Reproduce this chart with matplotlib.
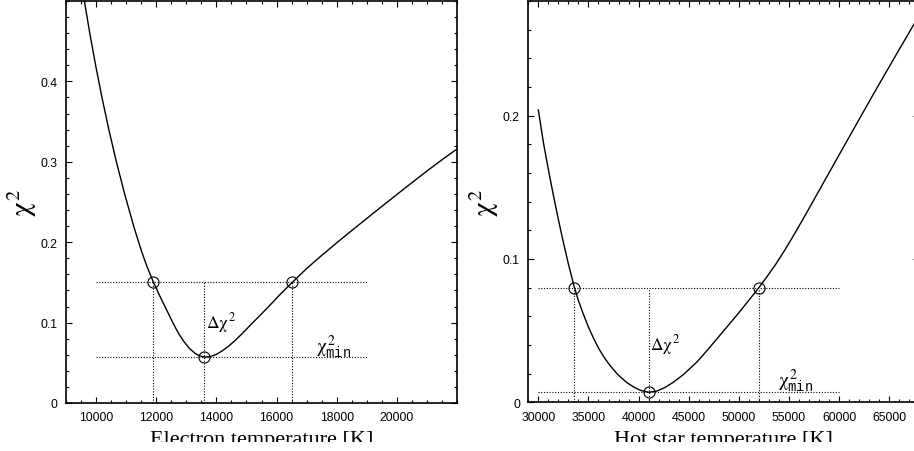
import matplotlib
matplotlib.use("Agg")
import matplotlib.pyplot as plt
from matplotlib.ticker import MultipleLocator, FixedLocator
from matplotlib.transforms import Bbox, TransformedBbox

plt.rcParams['mathtext.fontset'] = 'custom'
plt.rcParams['mathtext.rm'] = 'STIXGeneral'
plt.rcParams['mathtext.it'] = 'STIXGeneral'
plt.rcParams['mathtext.bf'] = 'STIXGeneral:bold'
plt.rcParams['mathtext.sf'] = 'Liberation Sans'
plt.rcParams['mathtext.tt'] = 'Liberation Mono'

# ---- Left panel: electron temperature ----
te_x = [9611, 9790, 9985, 10195, 10425, 10675, 10950, 11250, 11500, 11690,
        11910, 12120, 12330, 12578, 12750, 12911, 13100, 13300, 13450, 13633,
        13800, 14000, 14200, 14400, 14600, 14850, 15133, 15400, 15689, 16100,
        16522, 17000, 17500, 18000, 18500, 19000, 19500, 20000, 20500, 21000,
        21500, 22000]
te_chi2 = [0.500, 0.460, 0.420, 0.380, 0.340, 0.300, 0.260, 0.220, 0.190, 0.170,
           0.150, 0.133, 0.117, 0.098, 0.086, 0.077, 0.068, 0.0615, 0.0585, 0.057,
           0.0578, 0.0605, 0.065, 0.0705, 0.077, 0.086, 0.097, 0.107, 0.118, 0.1343,
           0.150, 0.1672, 0.1835, 0.1992, 0.2145, 0.2295, 0.2445, 0.2593, 0.2740, 0.2885,
           0.3025, 0.316]
te_best = 13600
te_lo, te_hi = 11900, 16500
te_min, te_level = 0.057, 0.15
te_line_x = [10000, 19000]
te_xticks = [10000, 12000, 14000, 16000, 18000, 20000]
te_yticks = [0, 0.1, 0.2, 0.3, 0.4]
te_yticklabels = ['0', '0.1', '0.2', '0.3', '0.4']

# ---- Right panel: hot star temperature ----
ts_x = [30000, 30500, 31000, 31500, 32000, 32500, 33000, 33600, 34000, 34490,
        35000, 35500, 35990, 36550, 37160, 37900, 38820, 39500, 40200, 41000,
        41800, 42600, 43470, 44500, 45800, 46500, 47300, 48200, 49130, 50000,
        51000, 52000, 52800, 53700, 54700, 55700, 56800, 57800, 58900, 60000,
        61000, 62100, 63300, 64600, 65800, 67000, 68000]
ts_chi2 = [0.204, 0.1815, 0.1625, 0.1445, 0.1275, 0.1115, 0.0965, 0.080, 0.071, 0.0615,
           0.0525, 0.0448, 0.038, 0.0315, 0.0256, 0.0195, 0.0138, 0.0107, 0.0083, 0.0070,
           0.0078, 0.0102, 0.014, 0.0195, 0.028, 0.0335, 0.040, 0.0475, 0.0552, 0.0625,
           0.0712, 0.080, 0.0876, 0.0965, 0.1075, 0.1193, 0.1327, 0.1452, 0.1589, 0.1726,
           0.1850, 0.1987, 0.2135, 0.2293, 0.2438, 0.2582, 0.270]
ts_best = 41000
ts_lo, ts_hi = 33600, 52000
ts_min, ts_level = 0.007, 0.080
ts_line_x = [30000, 60000]
ts_xticks = [30000, 35000, 40000, 45000, 50000, 55000, 60000, 65000]
ts_yticks = [0, 0.1, 0.2]
ts_yticklabels = ['0', '0.1', '0.2']

W, H = 914, 452
fig = plt.figure(figsize=(W / 100, H / 100), dpi=100)

serif = ['Liberation Serif', 'DejaVu Serif']
sans = ['Liberation Sans', 'DejaVu Sans']

# the reference picture is cut just below the baseline of the axis titles
clip = TransformedBbox(Bbox([[0, 9 / H], [1, 1]]), fig.transFigure)


def make_panel(rect, x, y, best, lo, hi, ymin, level, linex, xlim, ylim,
               xticks, xminor, yticks, yticklabels, yminor, xlabel,
               dlabel_xy, minlabel_xy):
    ax = fig.add_axes(rect)
    ax.plot(x, y, color='black', lw=1.0, solid_joinstyle='round')
    dot = dict(color='black', lw=0.8, ls=(0, (1, 1.5)))
    ax.plot(linex, [level, level], **dot)
    ax.plot(linex, [ymin, ymin], **dot)
    for xv in (lo, best, hi):
        ax.plot([xv, xv], [0, level], **dot)
    ax.plot([lo, hi, best], [level, level, ymin], 'o', mfc='none', mec='black',
            ms=8, mew=0.8)
    ax.set_xlim(*xlim)
    ax.set_ylim(*ylim)
    ax.xaxis.set_major_locator(FixedLocator(xticks))
    ax.xaxis.set_minor_locator(MultipleLocator(xminor))
    ax.yaxis.set_major_locator(FixedLocator(yticks))
    ax.yaxis.set_minor_locator(MultipleLocator(yminor))
    ax.set_xticklabels([str(t) for t in xticks])
    ax.set_yticklabels(yticklabels)
    ax.tick_params(which='both', direction='in', top=True, right=True,
                   labelsize=8.8, width=0.8)
    ax.tick_params(which='major', length=4.5)
    ax.tick_params(which='minor', length=2.2)
    ax.tick_params(axis='x', pad=6)
    ax.tick_params(axis='y', pad=6)
    for lab in ax.get_xticklabels() + ax.get_yticklabels():
        lab.set_family(sans)
    for s in ax.spines.values():
        s.set_linewidth(1.2)
    ax.set_xlabel(xlabel, fontsize=16, family=serif)
    ax.xaxis.set_label_coords(0.5, -0.103)
    ax.xaxis.label.set_verticalalignment('baseline')
    ax.xaxis.label.set_clip_box(clip)
    ax.xaxis.label.set_clip_on(True)
    ax.set_ylabel(r'$\chi^2$', fontsize=21, rotation=90)
    ax.yaxis.set_label_coords(-0.07, 0.5)
    ax.text(dlabel_xy[0], dlabel_xy[1], r'$\Delta\chi^2$', fontsize=12.5,
            ha='left', va='baseline')
    ax.text(minlabel_xy[0], minlabel_xy[1], r'$\chi^2_{\mathtt{min}}$',
            fontsize=14, ha='left', va='baseline')
    return ax


left_w = 391 / W
make_panel([66 / W, 1 - 404 / H, left_w, 402 / H], te_x, te_chi2, te_best,
           te_lo, te_hi, te_min, te_level, te_line_x, (9000, 22000), (0, 0.5),
           te_xticks, 500, te_yticks, te_yticklabels, 0.02,
           'Electron temperature [K]', (13640, 0.094), (17300, 0.064))

make_panel([528.3 / W, 1 - 403.3 / H, left_w, 401.3 / H], ts_x, ts_chi2, ts_best,
           ts_lo, ts_hi, ts_min, ts_level, ts_line_x, (29000, 68000), (0, 0.28),
           ts_xticks, 1000, ts_yticks, ts_yticklabels, 0.02,
           'Hot star temperature [K]', (41150, 0.037), (53900, 0.0115))

fig.savefig('out.png', dpi=100)
